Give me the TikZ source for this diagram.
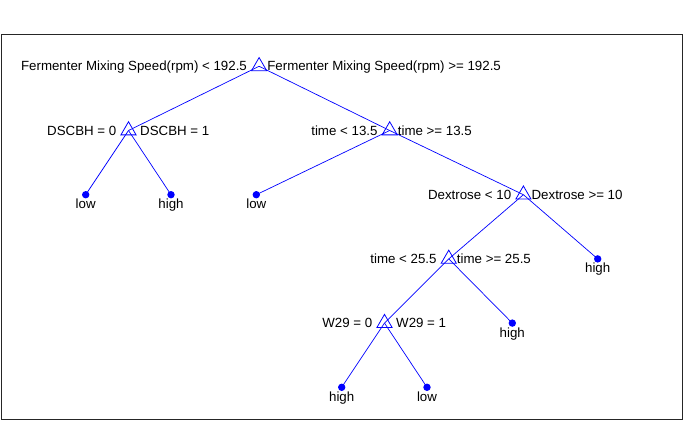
\documentclass[tikz,border=0pt]{standalone}
\usepackage{fontspec}
\setmainfont{Liberation Sans}
\usetikzlibrary{shapes.geometric}
\begin{document}
\begin{tikzpicture}[x=1pt,y=-1pt,
  edge/.style={blue, line width=0.7pt},
  split/.style={draw=blue, line width=0.8pt, regular polygon, regular polygon sides=3, minimum size=17.5pt, inner sep=0pt},
  leaf/.style={circle, fill=blue, minimum size=7.4pt, inner sep=0pt},
  lbl/.style={font=\fontsize{13.3}{16}\selectfont, inner sep=0pt, text=black}]
\useasboundingbox (0,0) rectangle (684,420);
\draw[black!85, line width=0.8pt] (1,34.7) rectangle (682.6,419);
% split nodes
\node[split] (r)  at (259.1,66.3) {};
\node[split] (d)  at (128.5,130.5) {};
\node[split] (t1) at (389.7,130.5) {};
\node[split] (dx) at (523.4,194.7) {};
\node[split] (t2) at (448.75,258.9) {};
\node[split] (w)  at (384.5,323.1) {};
% leaves
\node[leaf] (l1) at (85.7,194.7) {};
\node[leaf] (l2) at (171.0,194.7) {};
\node[leaf] (l3) at (256.3,194.7) {};
\node[leaf] (l4) at (341.7,387.3) {};
\node[leaf] (l5) at (427.0,387.3) {};
\node[leaf] (l6) at (512.3,323.1) {};
\node[leaf] (l7) at (597.7,258.9) {};
% edges
\draw[edge] (r.center) -- (d.center);
\draw[edge] (r.center) -- (t1.center);
\draw[edge] (d.center) -- (l1.center);
\draw[edge] (d.center) -- (l2.center);
\draw[edge] (t1.center) -- (l3.center);
\draw[edge] (t1.center) -- (dx.center);
\draw[edge] (dx.center) -- (t2.center);
\draw[edge] (dx.center) -- (l7.center);
\draw[edge] (t2.center) -- (w.center);
\draw[edge] (t2.center) -- (l6.center);
\draw[edge] (w.center) -- (l4.center);
\draw[edge] (w.center) -- (l5.center);
% split labels
\node[lbl, anchor=base east] (rL) at (247.1,70.8) {Fermenter Mixing Speed(rpm) < 192.5};
\node[lbl, anchor=base west] (rR) at (267.1,70.8) {Fermenter Mixing Speed(rpm) >= 192.5};
\node[lbl, anchor=base east] (dL) at (116.5,135) {DSCBH = 0};
\node[lbl, anchor=base west] (dR) at (140,135) {DSCBH = 1};
\node[lbl, anchor=base east] (t1L) at (377.7,135) {time < 13.5};
\node[lbl, anchor=base west] (t1R) at (397.7,135) {time >= 13.5};
\node[lbl, anchor=base east] (dxL) at (511.4,199.2) {Dextrose < 10};
\node[lbl, anchor=base west] (dxR) at (531.4,199.2) {Dextrose >= 10};
\node[lbl, anchor=base east] (t2L) at (436.75,263.4) {time < 25.5};
\node[lbl, anchor=base west] (t2R) at (456.75,263.4) {time >= 25.5};
\node[lbl, anchor=base east] (wL) at (372.5,327.6) {W29 = 0};
\node[lbl, anchor=base west] (wR) at (396,327.6) {W29 = 1};
% leaf labels
\node[lbl, anchor=base] (l1t) at (85.7,208.7) {low};
\node[lbl, anchor=base] (l2t) at (171.0,208.7) {high};
\node[lbl, anchor=base] (l3t) at (256.3,208.7) {low};
\node[lbl, anchor=base] (l4t) at (341.7,401.3) {high};
\node[lbl, anchor=base] (l5t) at (427.0,401.3) {low};
\node[lbl, anchor=base] (l6t) at (512.3,337.1) {high};
\node[lbl, anchor=base] (l7t) at (597.7,272.9) {high};
\end{tikzpicture}
\end{document}
